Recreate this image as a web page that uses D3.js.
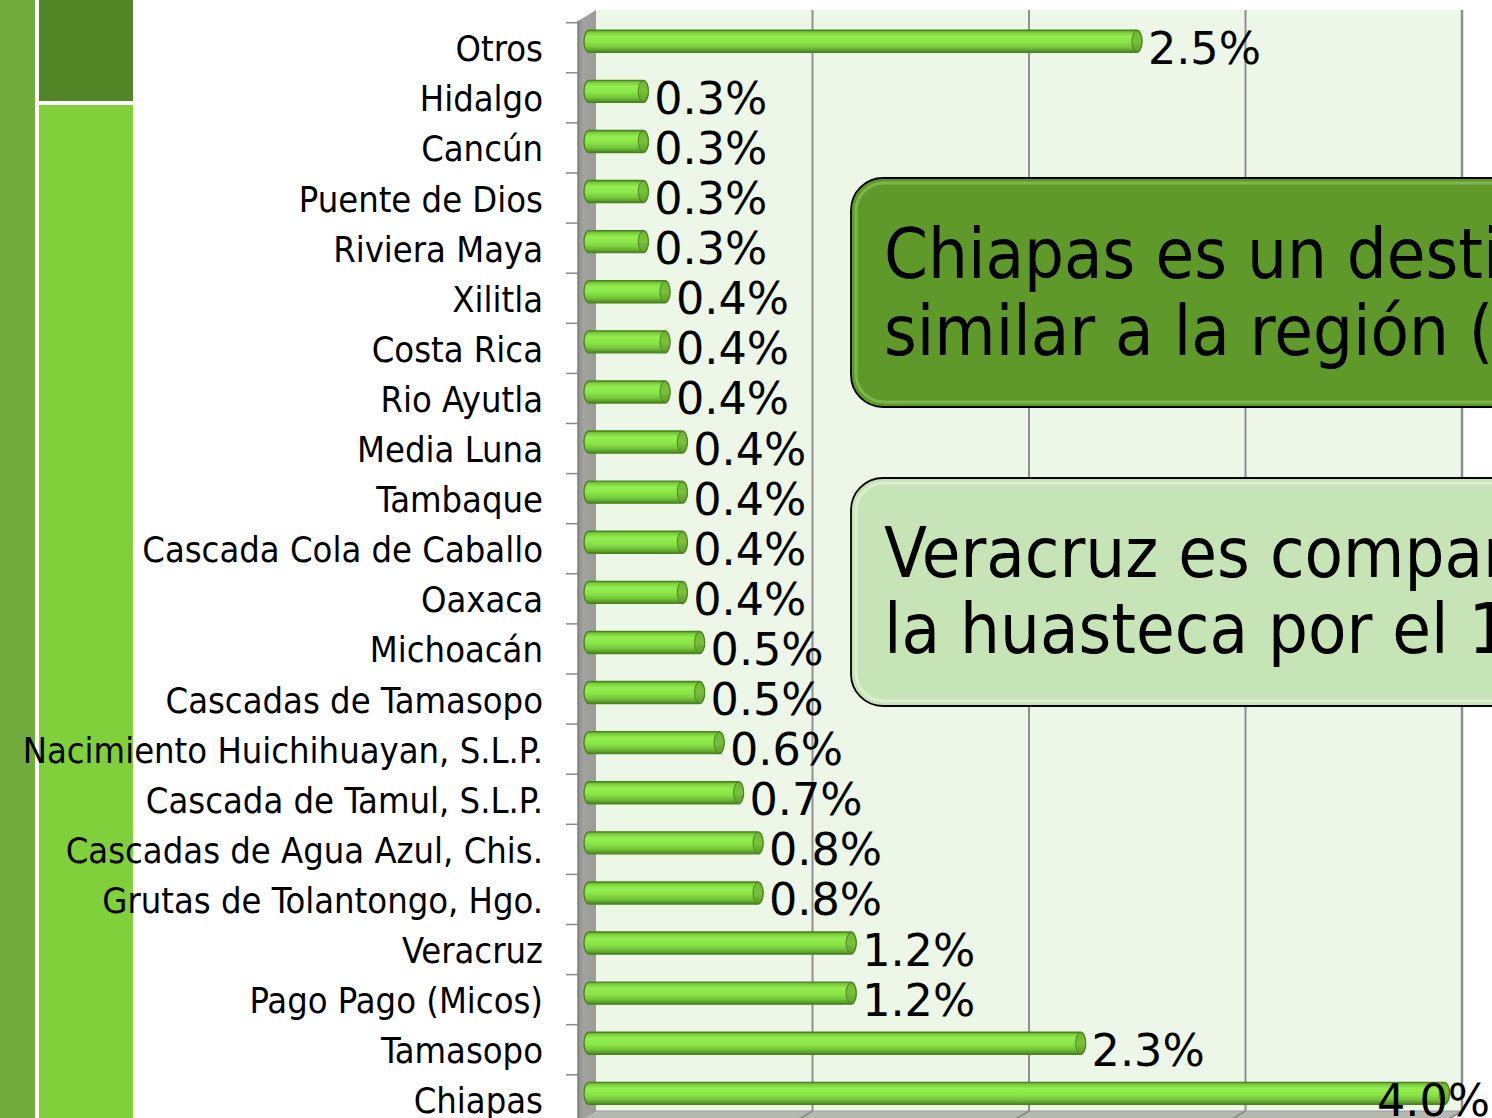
<!DOCTYPE html>
<html>
<head>
<meta charset="utf-8">
<script src="https://cdn.jsdelivr.net/npm/d3@7"></script>
<style>
  html, body { margin: 0; padding: 0; background: #ffffff; overflow: hidden; }
  svg { display: block; }
  .cat { font-family: 'DejaVu Sans Condensed', 'DejaVu Sans', sans-serif; font-stretch: condensed; font-size: 36px; fill: #000; }
  .val { font-family: 'DejaVu Sans', sans-serif; font-size: 44.5px; fill: #000; }
  .note { font-family: 'DejaVu Sans Condensed', 'DejaVu Sans', sans-serif; font-stretch: condensed; font-size: 70px; fill: #000; }
</style>
</head>
<body>
<script>
// ---- data (top to bottom as drawn) ----
const categories = [
  "Otros", "Hidalgo", "Cancún", "Puente de Dios", "Riviera Maya", "Xilitla",
  "Costa Rica", "Rio Ayutla", "Media Luna", "Tambaque", "Cascada Cola de Caballo",
  "Oaxaca", "Michoacán", "Cascadas de Tamasopo", "Nacimiento Huichihuayan, S.L.P.",
  "Cascada de Tamul, S.L.P.", "Cascadas de Agua Azul, Chis.", "Grutas de Tolantongo, Hgo.",
  "Veracruz", "Pago Pago (Micos)", "Tamasopo", "Chiapas"
];
const values = [
  2.54, 0.26, 0.26, 0.26, 0.26, 0.36,
  0.36, 0.36, 0.44, 0.44, 0.44,
  0.44, 0.52, 0.52, 0.61,
  0.70, 0.79, 0.79,
  1.22, 1.22, 2.28, 3.96
];
const gridTicks = [1, 2, 3, 4];
const note1Lines = ["Chiapas es un destino", "similar a la región ("];
const note2Lines = ["Veracruz es comparable", "la huasteca por el 1"];

const W = 1492, H = 1118;
const svg = d3.select("body").append("svg").attr("width", W).attr("height", H);
const defs = svg.append("defs");

// depth offset of the 3D plot (back wall vs front plane)
const DX = 18, DY = 11;

// scales: x on back wall, y on front plane
const x = d3.scaleLinear().domain([0, 4]).range([596, 1462]);
const y = d3.scaleBand().domain(categories).range([22.7, 22.7 + categories.length * 50.1]).padding(0);

// ---- decorative left blocks ----
svg.append("rect").attr("x", 0).attr("y", 0).attr("width", 35).attr("height", H).attr("fill", "#72ac3e");
svg.append("rect").attr("x", 39).attr("y", 0).attr("width", 94).attr("height", 101).attr("fill", "#528526");
svg.append("rect").attr("x", 39).attr("y", 105).attr("width", 94).attr("height", H - 105).attr("fill", "#80d03c");

// ---- 3D plot walls ----
const wallTop = 10, wallBottom = 1111;
svg.append("rect").attr("x", x(0)).attr("y", wallTop).attr("width", x(4) - x(0)).attr("height", wallBottom - wallTop)
  .attr("fill", "#ecf7e8");
// floor
svg.append("polygon")
  .attr("points", [[x(0), wallBottom], [x(4), wallBottom], [x(4) - DX, wallBottom + DY], [x(0) - DX, wallBottom + DY]].map(p => p.join(",")).join(" "))
  .attr("fill", "#b6b9b1").attr("stroke", "#9a9c96").attr("stroke-width", 1);
// grid lines on back wall + floor
gridTicks.forEach(t => {
  svg.append("line").attr("x1", x(t)).attr("x2", x(t)).attr("y1", wallTop).attr("y2", wallBottom)
    .attr("stroke", "#8f8f8f").attr("stroke-width", t === 4 ? 2.5 : 2);
  svg.append("line").attr("x1", x(t)).attr("x2", x(t) - DX).attr("y1", wallBottom).attr("y2", wallBottom + DY)
    .attr("stroke", "#8f8f8f").attr("stroke-width", 2);
});
// side wall
const sideGrad = defs.append("linearGradient").attr("id", "sideGrad").attr("x1", "0").attr("x2", "1").attr("y1", "0").attr("y2", "0");
sideGrad.append("stop").attr("offset", "0%").attr("stop-color", "#8d8e8a");
sideGrad.append("stop").attr("offset", "30%").attr("stop-color", "#a2a39e");
sideGrad.append("stop").attr("offset", "100%").attr("stop-color", "#9b9c97");
svg.append("polygon")
  .attr("points", [[x(0) - DX, wallTop + DY], [x(0), wallTop], [x(0), wallBottom], [x(0) - DX, wallBottom + DY]].map(p => p.join(",")).join(" "))
  .attr("fill", "url(#sideGrad)");
svg.append("line").attr("x1", x(0) - DX).attr("x2", x(0) - DX).attr("y1", wallTop + DY).attr("y2", H)
  .attr("stroke", "#7d7e7a").attr("stroke-width", 1.5);

// category tick marks (band boundaries on front plane)
const boundaries = categories.map(c => y(c)).concat([y(categories[categories.length - 1]) + y.bandwidth()]);
svg.selectAll("line.tick").data(boundaries).enter().append("line")
  .attr("class", "tick")
  .attr("x1", x(0) - DX - 12).attr("x2", x(0) - DX)
  .attr("y1", d => d).attr("y2", d => d)
  .attr("stroke", "#8a8a8a").attr("stroke-width", 1.5);

// ---- bars (cylinders at mid depth) ----
const barGrad = defs.append("linearGradient").attr("id", "barGrad").attr("x1", "0").attr("x2", "0").attr("y1", "0").attr("y2", "1");
[["0%", "#5a9a28"], ["10%", "#7ccd3d"], ["28%", "#93ee50"], ["55%", "#8ae548"], ["78%", "#74c63a"], ["92%", "#5c9d2b"], ["100%", "#4a8020"]]
  .forEach(([o, c]) => barGrad.append("stop").attr("offset", o).attr("stop-color", c));
const capGrad = defs.append("linearGradient").attr("id", "capGrad").attr("x1", "0").attr("x2", "0").attr("y1", "0").attr("y2", "1");
[["0%", "#6fb434"], ["50%", "#79c23a"], ["100%", "#5d9c2a"]]
  .forEach(([o, c]) => capGrad.append("stop").attr("offset", o).attr("stop-color", c));

const data = categories.map((c, i) => ({ cat: c, v: values[i] }));
const barH = 22, midDX = DX / 2, midDY = DY / 2 + 1;
const barCY = d => y(d.cat) + y.bandwidth() / 2 - midDY;
const barX0 = x(0) - midDX;
const barX1 = d => x(d.v) - midDX;

const bars = svg.append("g");
bars.selectAll("rect").data(data).enter().append("rect")
  .attr("x", barX0 - 3)
  .attr("y", d => barCY(d) - barH / 2)
  .attr("width", d => barX1(d) + 5 - (barX0 - 3))
  .attr("height", barH)
  .attr("rx", 5).attr("ry", barH / 2)
  .attr("fill", "url(#barGrad)")
  .attr("stroke", "#4a8420").attr("stroke-width", 1.4);
bars.selectAll("ellipse").data(data).enter().append("ellipse")
  .attr("cx", d => barX1(d))
  .attr("cy", d => barCY(d))
  .attr("rx", 5).attr("ry", barH / 2 - 0.5)
  .attr("fill", "url(#capGrad)")
  .attr("stroke", "#4a8420").attr("stroke-width", 1);

// ---- data labels ----
const fmt = v => v.toFixed(1) + "%";
svg.append("g").selectAll("text").data(data).enter().append("text")
  .attr("class", "val")
  .attr("y", d => y(d.cat) + y.bandwidth() / 2 + 16)
  .text(d => fmt(d.v))
  .each(function (d) {
    const t = d3.select(this);
    const w = this.getComputedTextLength();
    const sx = barX1(d) + 11;
    if (sx + w > W - 2) t.attr("x", W - 2).attr("text-anchor", "end");
    else t.attr("x", sx);
  });

// ---- category labels ----
svg.append("g").selectAll("text").data(categories).enter().append("text")
  .attr("class", "cat")
  .attr("x", 543)
  .attr("y", c => y(c) + y.bandwidth() / 2 + 13.5)
  .attr("text-anchor", "end")
  .text(c => c);

// ---- callout boxes ----
function callout(y0, y1, fill, hi, lines, baselines) {
  const g = svg.append("g");
  g.append("rect").attr("x", 851).attr("y", y0).attr("width", 760).attr("height", y1 - y0)
    .attr("rx", 32).attr("ry", 32)
    .attr("fill", fill).attr("stroke", "#000").attr("stroke-width", 1.8);
  // glossy inner highlight
  g.append("rect").attr("x", 856).attr("y", y0 + 5).attr("width", 750).attr("height", y1 - y0 - 10)
    .attr("rx", 28).attr("ry", 28)
    .attr("fill", "none").attr("stroke", hi).attr("stroke-width", 3).attr("opacity", 0.7);
  lines.forEach((l, i) => {
    g.append("text").attr("class", "note").attr("x", 884).attr("y", baselines[i]).text(l);
  });
}
callout(178, 407, "#5f992a", "#8cc35a", note1Lines, [278, 355]);
callout(478, 706, "#c6e4b5", "#e6f4dc", note2Lines, [577, 653]);
</script>
</body>
</html>
